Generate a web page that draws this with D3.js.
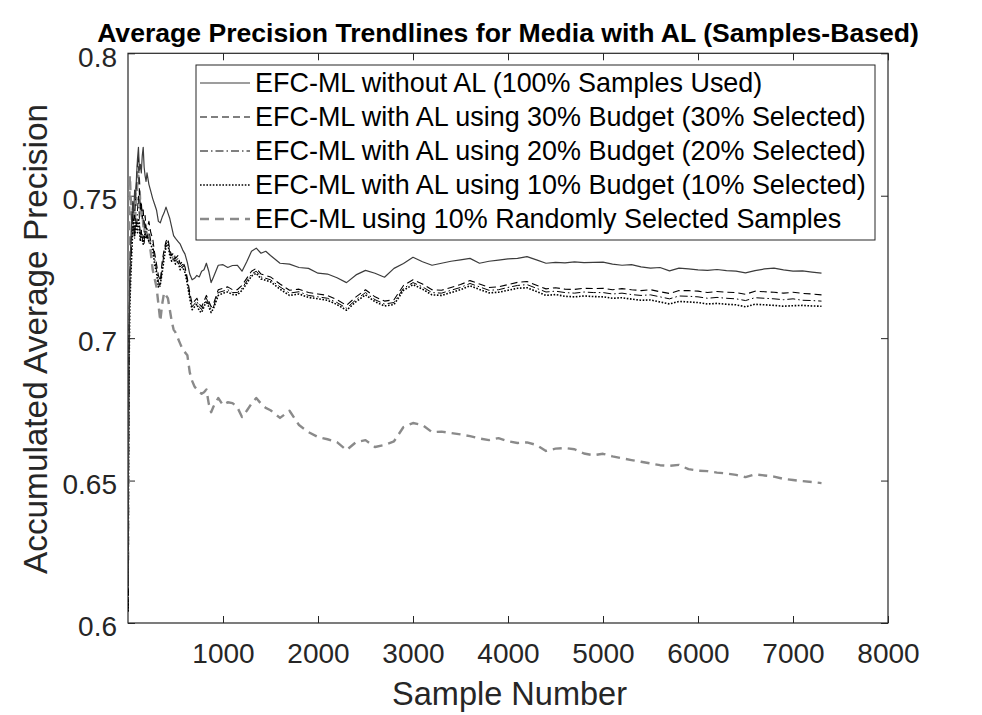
<!DOCTYPE html>
<html>
<head>
<meta charset="utf-8">
<script src="https://cdn.jsdelivr.net/npm/d3@7"></script>
<style>
  html, body { margin: 0; padding: 0; background: #fff; }
  svg { display: block; }
  text { font-family: "Liberation Sans", Arial, Helvetica, sans-serif; }
</style>
</head>
<body>
<svg id="chart" width="982" height="715"></svg>
<script>
// ---------------- data ----------------
const sampleNumbers = [
  1,3,6,10,15,20,
  30,40,50,60,70,80,90,100,110,120,130,140,150,160,170,180,190,200,
  220,240,260,280,300,320,340,360,380,400,420,440,460,480,500,
  525,550,575,600,625,650,675,700,725,750,775,800,825,850,875,900,
  950,1000,1050,1100,1150,1200,1250,1300,1350,1400,1450,1500,
  1600,1700,1800,1900,2000,2100,2200,2300,2400,2500,
  2600,2700,2800,2900,3000,3100,3200,3300,3400,3500,
  3600,3700,3800,3900,4000,4100,4200,4300,4400,4500,
  4600,4700,4800,4900,5000,5100,5200,5300,5400,5500,
  5600,5700,5800,5900,6000,6100,6200,6300,6400,6500,
  6600,6700,6800,6900,7000,7100,7200,7300
];

const withoutAL = [
  0.612,0.64,0.67,0.695,0.712,0.722,
  0.735,0.742,0.748,0.744,0.752,0.749,0.757,0.763,0.767,0.759,0.761,0.758,0.764,0.767,0.760,0.757,0.755,0.758,
  0.754,0.7515,0.749,0.747,0.745,0.741,0.7405,0.7425,0.744,0.746,0.744,0.742,0.739,0.736,0.735,
  0.734,0.733,0.731,0.7295,0.7265,0.7225,0.7205,0.721,0.722,0.7215,0.7235,0.724,0.7263,0.7235,0.7195,0.7215,
  0.7256,0.7258,0.7248,0.7255,0.7256,0.7235,0.7268,0.7305,0.7316,0.7298,0.7305,0.729,
  0.7263,0.726,0.7248,0.7245,0.7228,0.7225,0.7212,0.7195,0.7222,0.7238,
  0.7228,0.7214,0.7245,0.7262,0.7284,0.7268,0.7256,0.7263,0.727,0.7275,
  0.728,0.7263,0.727,0.7274,0.7278,0.728,0.7286,0.7275,0.7263,0.7266,
  0.7264,0.7268,0.7265,0.7266,0.7267,0.726,0.7256,0.7258,0.725,0.7246,
  0.7248,0.7236,0.7246,0.7243,0.724,0.7238,0.7241,0.7237,0.7235,0.7229,
  0.7237,0.7243,0.7246,0.724,0.7235,0.7236,0.7232,0.7228
];

const withAL30 = [
  0.606,0.635,0.665,0.695,0.712,0.722,
  0.732,0.74,0.748,0.745,0.742,0.75,0.755,0.761,0.764,0.752,0.745,0.748,0.742,0.745,0.74,0.743,0.739,0.738,
  0.741,0.737,0.735,0.73,0.726,0.722,0.72,0.727,0.731,0.734,0.735,0.731,0.729,0.73,0.728,
  0.729,0.726,0.727,0.725,0.721,0.716,0.712,0.713,0.714,0.712,0.711,0.713,0.715,0.713,0.711,0.712,
  0.717,0.7175,0.718,0.717,0.717,0.7185,0.721,0.7235,0.7245,0.7225,0.722,0.7215,
  0.719,0.7168,0.7172,0.716,0.7155,0.715,0.7135,0.7115,0.7145,0.717,
  0.7145,0.713,0.7135,0.7185,0.7205,0.719,0.717,0.7168,0.7178,0.7188,
  0.7202,0.719,0.7178,0.718,0.7188,0.7196,0.7199,0.7186,0.7173,0.7177,
  0.7172,0.7171,0.7175,0.7174,0.7175,0.717,0.7174,0.717,0.7167,0.717,
  0.7163,0.7157,0.7167,0.7167,0.7165,0.716,0.7164,0.7161,0.716,0.7154,
  0.7165,0.7163,0.7161,0.7158,0.7161,0.7157,0.7155,0.7152
];

const withAL20 = [
  0.604,0.63,0.66,0.69,0.705,0.72,
  0.725,0.735,0.745,0.74,0.735,0.742,0.738,0.745,0.75,0.742,0.735,0.738,0.734,0.736,0.733,0.74,0.737,0.735,
  0.738,0.734,0.733,0.728,0.724,0.72,0.718,0.725,0.73,0.733,0.734,0.73,0.728,0.729,0.727,
  0.728,0.725,0.726,0.724,0.72,0.715,0.711,0.712,0.713,0.711,0.71,0.712,0.714,0.712,0.71,0.711,
  0.716,0.7165,0.717,0.716,0.716,0.7175,0.72,0.7225,0.7235,0.7215,0.721,0.7205,
  0.718,0.7158,0.7163,0.715,0.7145,0.714,0.7125,0.7105,0.7135,0.716,
  0.7135,0.712,0.7125,0.7175,0.7195,0.718,0.716,0.7158,0.7168,0.7178,
  0.7192,0.718,0.7168,0.717,0.7178,0.7185,0.7188,0.7175,0.7162,0.7165,
  0.716,0.7158,0.7162,0.716,0.716,0.7155,0.7158,0.7153,0.715,0.7152,
  0.7145,0.7138,0.7148,0.7147,0.7145,0.714,0.7143,0.714,0.7138,0.7132,
  0.7142,0.714,0.7138,0.7135,0.7138,0.7133,0.7132,0.713
];

const withAL10 = [
  0.604,0.628,0.655,0.685,0.70,0.712,
  0.722,0.73,0.738,0.742,0.736,0.739,0.741,0.737,0.742,0.739,0.734,0.737,0.736,0.733,0.735,0.737,0.735,0.736,
  0.734,0.733,0.731,0.726,0.723,0.718,0.719,0.723,0.728,0.732,0.733,0.729,0.727,0.728,0.726,
  0.727,0.724,0.725,0.723,0.719,0.714,0.71,0.711,0.712,0.7095,0.709,0.711,0.713,0.711,0.709,0.7105,
  0.715,0.7158,0.7162,0.7153,0.7152,0.7168,0.7192,0.7218,0.7228,0.7208,0.7203,0.7198,
  0.7172,0.715,0.7155,0.7143,0.7138,0.7133,0.7118,0.7098,0.7128,0.7152,
  0.7128,0.7113,0.7118,0.7168,0.7188,0.7172,0.7152,0.715,0.716,0.717,
  0.7184,0.7171,0.7159,0.7161,0.7168,0.7175,0.7177,0.7164,0.715,0.7153,
  0.7147,0.7145,0.7148,0.7146,0.7145,0.714,0.7142,0.7137,0.7133,0.7134,
  0.7127,0.712,0.7129,0.7127,0.7125,0.712,0.7122,0.7119,0.7117,0.711,
  0.7119,0.7117,0.7115,0.7112,0.7114,0.7115,0.7113,0.7112
];

const random10 = [
  0.622,0.66,0.70,0.73,0.75,0.757,
  0.748,0.742,0.738,0.735,0.74,0.745,0.75,0.755,0.757,0.754,0.747,0.742,0.745,0.74,0.737,0.74,0.736,0.738,
  0.735,0.73,0.724,0.721,0.718,0.712,0.706,0.712,0.716,0.715,0.714,0.71,0.706,0.703,0.702,
  0.70,0.698,0.696,0.695,0.694,0.688,0.685,0.683,0.682,0.681,0.6805,0.681,0.682,0.677,0.674,0.676,
  0.679,0.6765,0.6775,0.6772,0.6758,0.6723,0.6745,0.677,0.679,0.677,0.6755,0.6747,
  0.672,0.6745,0.6695,0.667,0.6653,0.6645,0.6635,0.6607,0.6635,0.6642,
  0.6618,0.6625,0.6638,0.6688,0.6702,0.6695,0.667,0.6672,0.6667,0.6662,
  0.6656,0.6648,0.6642,0.6649,0.6638,0.6632,0.6634,0.6625,0.6604,0.6612,
  0.6614,0.661,0.6595,0.6589,0.6594,0.6585,0.6578,0.6572,0.6566,0.656,
  0.6554,0.6552,0.6555,0.654,0.6535,0.6533,0.6528,0.6525,0.652,0.6512,
  0.6522,0.6518,0.6514,0.6506,0.6502,0.6498,0.6495,0.6491
];

const seriesLabels = [
  "EFC-ML without AL (100% Samples Used)",
  "EFC-ML with AL using 30% Budget (30% Selected)",
  "EFC-ML with AL using 20% Budget (20% Selected)",
  "EFC-ML with AL using 10% Budget (10% Selected)",
  "EFC-ML using 10% Randomly Selected Samples"
];
const xTickValues = [1000,2000,3000,4000,5000,6000,7000,8000];
const yTickValues = [0.6,0.65,0.7,0.75,0.8];
const yTickLabels = ["0.6","0.65","0.7","0.75","0.8"];
const titleText = "Average Precision Trendlines for Media with AL (Samples-Based)";
const xLabelText = "Sample Number";
const yLabelText = "Accumulated Average Precision";

// ---------------- layout / styles ----------------
const L = 128, R = 888, T = 53.3, B = 623;
const axisColor = "#262626";
const styles = [
  { color: "#3c3c3c", width: 1.2, dash: null },
  { color: "#000000", width: 1.1, dash: "7,4" },
  { color: "#000000", width: 1.0, dash: "8,3,1.5,3" },
  { color: "#000000", width: 1.6, dash: "1.6,1.6" },
  { color: "#8a8a8a", width: 2.4, dash: "9,6" }
];
const allSeries = [withoutAL, withAL30, withAL20, withAL10, random10];

const svg = d3.select("#chart");
const x = d3.scaleLinear().domain([0, 8000]).range([L, R]);
const y = d3.scaleLinear().domain([0.6, 0.8]).range([B, T]);

svg.append("defs").append("clipPath").attr("id", "clip")
  .append("rect").attr("x", L).attr("y", T).attr("width", R - L).attr("height", B - T);

const tickLen = 7;
const gx = svg.append("g").attr("transform", `translate(0,${B})`)
  .call(d3.axisBottom(x).tickValues(xTickValues).tickSizeInner(-tickLen).tickSizeOuter(0).tickFormat(d3.format("d")));
gx.selectAll("text").attr("y", 40).attr("dy", 0).attr("font-size", 28).attr("fill", axisColor)
  .style("font-family", '"Liberation Sans", Arial, sans-serif');
const gxt = svg.append("g").attr("transform", `translate(0,${T})`)
  .call(d3.axisTop(x).tickValues(xTickValues).tickSizeInner(-tickLen).tickSizeOuter(0).tickFormat(""));
const gy = svg.append("g").attr("transform", `translate(${L},0)`)
  .call(d3.axisLeft(y).tickValues(yTickValues).tickSizeInner(-tickLen).tickSizeOuter(0)
    .tickFormat((d, i) => yTickLabels[i]));
gy.selectAll("text").attr("x", -11).attr("dy", 0).attr("y", 12.7).attr("font-size", 28).attr("fill", axisColor)
  .style("font-family", '"Liberation Sans", Arial, sans-serif');
const gyr = svg.append("g").attr("transform", `translate(${R},0)`)
  .call(d3.axisRight(y).tickValues(yTickValues).tickSizeInner(-tickLen).tickSizeOuter(0).tickFormat(""));
[gx, gxt, gy, gyr].forEach(g => {
  g.select(".domain").remove();
  g.selectAll(".tick line").attr("stroke", axisColor).attr("stroke-width", 1);
});

svg.append("rect").attr("x", L).attr("y", T).attr("width", R - L).attr("height", B - T)
  .attr("fill", "none").attr("stroke", axisColor).attr("stroke-width", 1.2);

const line = d3.line().x((d, i) => x(sampleNumbers[i])).y(d => y(d));
const plot = svg.append("g").attr("clip-path", "url(#clip)");
const drawOrder = [4, 3, 2, 1, 0];
drawOrder.forEach(k => {
  plot.append("path").datum(allSeries[k])
    .attr("d", line)
    .attr("fill", "none")
    .attr("stroke", styles[k].color)
    .attr("stroke-width", styles[k].width)
    .attr("stroke-dasharray", styles[k].dash)
    .attr("stroke-linejoin", "round");
});

function fit(sel, target) {
  const w = sel.node().getComputedTextLength();
  const fs = parseFloat(sel.attr("font-size"));
  sel.attr("font-size", fs * target / w);
  return fs * target / w;
}

const title = svg.append("text").attr("x", 508).attr("y", 42).attr("text-anchor", "middle")
  .attr("font-size", 20).attr("font-weight", "bold").attr("fill", "#000").text(titleText);
fit(title, 822);

const xl = svg.append("text").attr("x", 509.5).attr("y", 705).attr("text-anchor", "middle")
  .attr("font-size", 30).attr("fill", axisColor).text(xLabelText);
fit(xl, 235);

const yl = svg.append("text").attr("transform", "translate(47,339) rotate(-90)").attr("text-anchor", "middle")
  .attr("font-size", 30).attr("fill", axisColor).text(yLabelText);
fit(yl, 470);

const lg = svg.append("g");
lg.append("rect").attr("x", 196).attr("y", 65).attr("width", 679).attr("height", 175)
  .attr("fill", "#fff").attr("stroke", axisColor).attr("stroke-width", 1);
const rowY = [83, 117, 151, 185, 219];
const texts = seriesLabels.map((s, i) => lg.append("text").attr("x", 255).attr("y", rowY[i] + 9)
  .attr("font-size", 25).attr("fill", "#000").text(s));
const fsLeg = fit(texts[1], 611);
texts.forEach(t => t.attr("font-size", fsLeg));
seriesLabels.forEach((s, i) => {
  lg.append("line").attr("x1", 200).attr("x2", 250).attr("y1", rowY[i]).attr("y2", rowY[i])
    .attr("stroke", styles[i].color).attr("stroke-width", styles[i].width)
    .attr("stroke-dasharray", styles[i].dash);
});
</script>
</body>
</html>
